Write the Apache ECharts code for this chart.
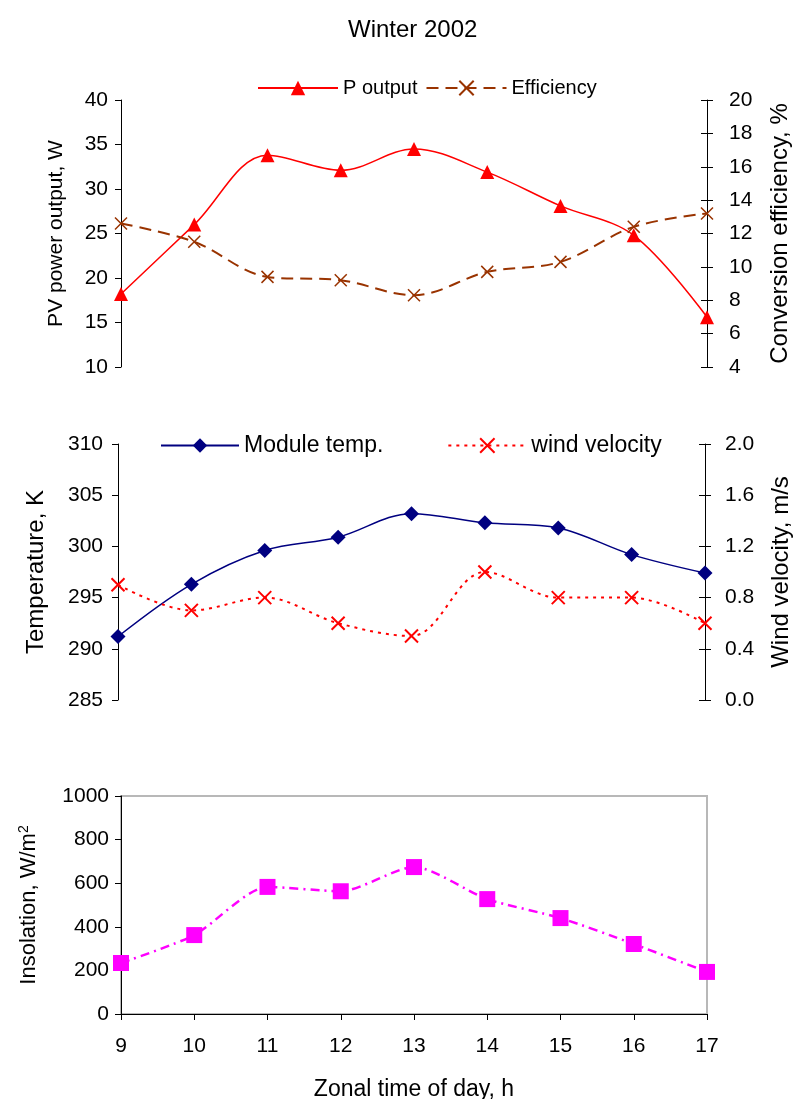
<!DOCTYPE html>
<html>
<head>
<meta charset="utf-8">
<script src="https://cdn.jsdelivr.net/npm/echarts@6/dist/echarts.min.js"></script>
<style>
  html, body { margin: 0; padding: 0; background: #fff; }
  #main { width: 794px; height: 1099px; }
</style>
</head>
<body>
<div id="main"></div>
<script>
// hours of the day (x axis)
const hours = ["9", "10", "11", "12", "13", "14", "15", "16", "17"];
// top panel
const pOutput = [18.2, 26.0, 33.8, 32.1, 34.5, 31.9, 28.1, 24.8, 15.6];
const efficiency = [12.6, 11.5, 9.4, 9.2, 8.3, 9.7, 10.3, 12.4, 13.2];
// middle panel
const moduleTemp = [291.2, 296.3, 299.6, 300.9, 303.2, 302.3, 301.8, 299.2, 297.4];
const windVelocity = [0.9, 0.7, 0.8, 0.6, 0.5, 1.0, 0.8, 0.8, 0.6];
// bottom panel
const insolation = [234, 362, 583, 563, 674, 527, 440, 321, 193];

const FONT = "Liberation Sans, Arial, sans-serif";
const crossMark = "path://M0,0L10,10M10,0L0,10";

const myChart = echarts.init(document.getElementById("main"));

// common y axis look
function yAx(grid, pos, min, max, interval, name, gap, nameSize, margin, fmt) {
  return {
    type: "value",
    gridIndex: grid,
    position: pos,
    min: min,
    max: max,
    interval: interval,
    name: name,
    nameLocation: "middle",
    nameGap: gap,
    nameTextStyle: { color: "#000", fontSize: nameSize, fontFamily: FONT },
    splitLine: { show: false },
    axisLine: { show: true, lineStyle: { color: "#000", width: 1 } },
    axisTick: { show: true, length: 6, lineStyle: { color: "#000" } },
    axisLabel: {
      color: "#000",
      fontSize: 21,
      fontFamily: FONT,
      margin: margin,
      formatter: fmt || ((v) => String(v)),
    },
  };
}

// inner half of the crossing ticks on the right axes
function innerTicks(grid, min, max, interval) {
  return {
    type: "value",
    gridIndex: grid,
    position: "right",
    min: min,
    max: max,
    interval: interval,
    splitLine: { show: false },
    axisLine: { show: false },
    axisTick: { show: true, inside: true, length: 6, lineStyle: { color: "#000" } },
    axisLabel: { show: false },
  };
}

const option = {
  animation: false,
  backgroundColor: "#fff",
  textStyle: { fontFamily: FONT },
  title: {
    text: "Winter 2002",
    left: 343,
    top: 13,
    textStyle: { color: "#000", fontSize: 24, fontWeight: "normal", fontFamily: FONT },
  },
  legend: [
    {
      data: ["P output", "Efficiency"],
      left: 257,
      top: 78,
      padding: 0,
      itemWidth: 80,
      itemHeight: 18,
      itemGap: 8,
      textStyle: { color: "#000", fontSize: 20, fontFamily: FONT },
    },
    {
      data: ["Module temp.", "wind velocity"],
      left: 160,
      top: 434,
      padding: 0,
      itemWidth: 78,
      itemHeight: 18,
      itemGap: 64,
      textStyle: { color: "#000", fontSize: 23, fontFamily: FONT },
    },
  ],
  grid: [
    { left: 121, width: 586, top: 100, height: 267, outerBoundsMode: "none" },
    { left: 118, width: 587, top: 444, height: 256, outerBoundsMode: "none" },
    {
      left: 121,
      width: 586,
      top: 796,
      height: 218,
      outerBoundsMode: "none",
      show: true,
      borderColor: "#b8b8b8",
      borderWidth: 2,
    },
  ],
  xAxis: [
    { type: "category", gridIndex: 0, data: hours, boundaryGap: false, show: false },
    { type: "category", gridIndex: 1, data: hours, boundaryGap: false, show: false },
    {
      type: "category",
      gridIndex: 2,
      data: hours,
      boundaryGap: false,
      name: "Zonal time of day, h",
      nameLocation: "middle",
      nameGap: 64,
      nameTextStyle: { color: "#000", fontSize: 23, fontFamily: FONT },
      axisLine: { lineStyle: { color: "#000", width: 1 } },
      axisTick: { show: true, length: 6, lineStyle: { color: "#000" } },
      axisLabel: { color: "#000", fontSize: 21, fontFamily: FONT, margin: 22 },
      splitLine: { show: false },
    },
  ],
  yAxis: [
    yAx(0, "left", 10, 40, 5, "PV power output, W", 54, 21, 13),
    yAx(0, "right", 4, 20, 2, "Conversion efficiency, %", 61, 24, 22),
    yAx(1, "left", 285, 310, 5, "Temperature, K", 70, 24, 15),
    yAx(1, "right", 0, 2, 0.4, "Wind velocity, m/s", 64, 24, 20, (v) => v.toFixed(1)),
    Object.assign(yAx(2, "left", 0, 1000, 200, "Insolation, W/m{s|2}", 80, 22, 12), {
      nameTextStyle: {
        color: "#000",
        fontSize: 22,
        fontFamily: FONT,
        rich: { s: { fontSize: 14, verticalAlign: "top", fontFamily: FONT, color: "#000", padding: [0, 0, 10, 0] } },
      },
    }),
    innerTicks(0, 4, 20, 2),
    innerTicks(1, 0, 2, 0.4),
  ],
  series: [
    {
      name: "P output",
      type: "line",
      xAxisIndex: 0,
      yAxisIndex: 0,
      data: pOutput,
      smooth: 0.35,
      symbol: "triangle",
      symbolSize: 14,
      itemStyle: { color: "#ff0000" },
      lineStyle: { color: "#ff0000", width: 1.5 },
    },
    {
      name: "Efficiency",
      type: "line",
      xAxisIndex: 0,
      yAxisIndex: 1,
      data: efficiency,
      smooth: 0.35,
      symbol: crossMark,
      symbolSize: 12,
      itemStyle: { color: "#993300", borderColor: "#993300", borderWidth: 1.5 },
      lineStyle: { color: "#993300", width: 2, type: [12, 7] },
    },
    {
      name: "Module temp.",
      type: "line",
      xAxisIndex: 1,
      yAxisIndex: 2,
      data: moduleTemp,
      smooth: 0.35,
      symbol: "diamond",
      symbolSize: 15,
      itemStyle: { color: "#000080" },
      lineStyle: { color: "#000080", width: 1.5 },
    },
    {
      name: "wind velocity",
      type: "line",
      xAxisIndex: 1,
      yAxisIndex: 3,
      data: windVelocity,
      smooth: 0.35,
      symbol: crossMark,
      symbolSize: 13,
      itemStyle: { color: "#ff0000", borderColor: "#ff0000", borderWidth: 2 },
      lineStyle: { color: "#ff0000", width: 2, type: [3, 5] },
    },
    {
      name: "Insolation",
      type: "line",
      xAxisIndex: 2,
      yAxisIndex: 4,
      data: insolation,
      smooth: 0.25,
      symbol: "rect",
      symbolSize: 16,
      itemStyle: { color: "#ff00ff" },
      lineStyle: { color: "#ff00ff", width: 2.5, type: [9, 5, 2, 5] },
    },
  ],
};

myChart.setOption(option);
</script>
</body>
</html>
